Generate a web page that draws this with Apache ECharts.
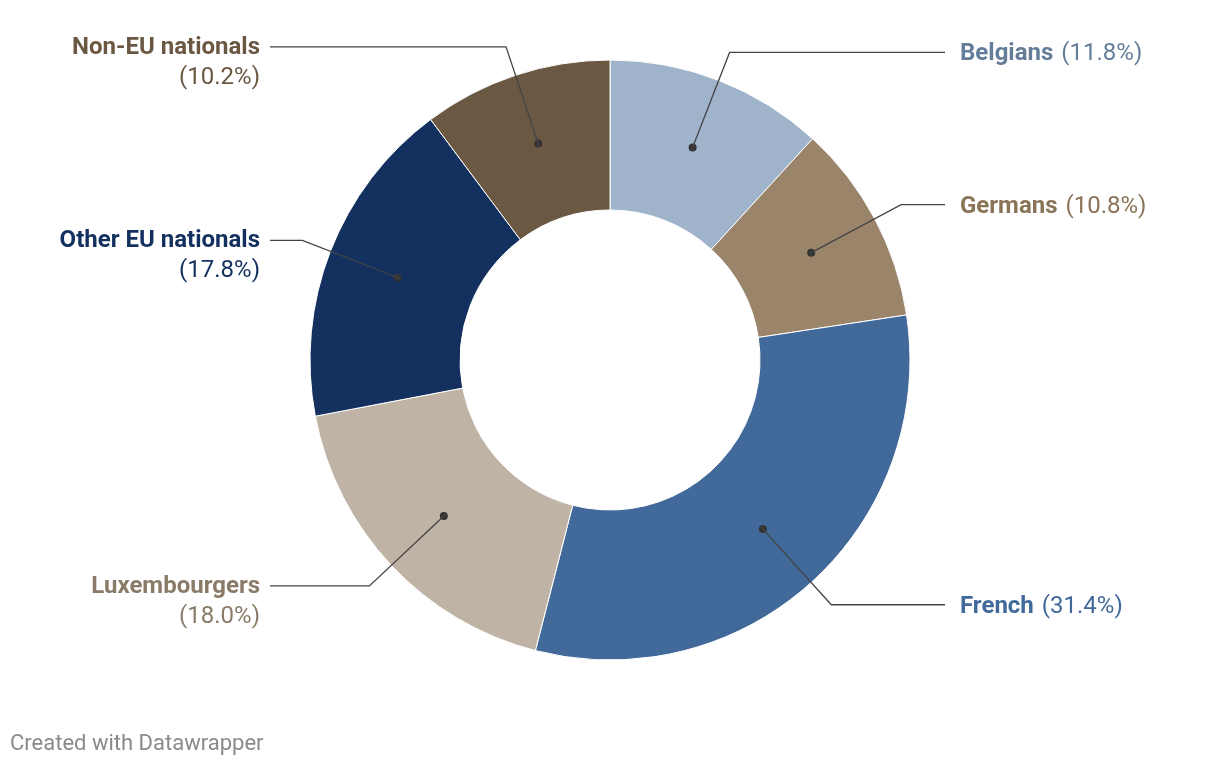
<!DOCTYPE html>
<html><head><meta charset="utf-8">
<script src="https://cdn.jsdelivr.net/npm/echarts@6/dist/echarts.min.js"></script>
<style>html,body{margin:0;padding:0;background:#fff}#c{width:1220px;height:766px}</style>
</head><body><div id="c"></div>
<script>
const categories = ['Belgians', 'Germans', 'French', 'Luxembourgers', 'Other EU nationals', 'Non-EU nationals'];
const values = [11.8, 10.8, 31.4, 18.0, 17.8, 10.2];
const sliceColors = ['#9fb3cb', '#9a856b', '#41699a', '#bfb3a5', '#13305f', '#6b5843'];
const labelColors = ['#647d99', '#8a7457', '#41699a', '#8a7a68', '#13305f', '#6b5843'];

const CX = 610, CY = 360, R0 = 150, R1 = 300, RMID = 225;
const total = values.reduce((a, b) => a + b, 0);
let cum = 0;
const sides = values.map(v => { const mid = cum + v / 2; cum += v; return mid < total / 2 ? 'right' : 'left'; });

const ringData = categories.map((name, i) => ({ name: name, value: values[i], itemStyle: { color: sliceColors[i] } }));

const labelData = categories.map((name, i) => {
  const pct = '(' + values[i].toFixed(1) + '%)';
  const right = sides[i] === 'right';
  return {
    name: name,
    value: values[i],
    label: {
      formatter: right ? '{b|' + name + '}{s|}{p|' + pct + '}' : '{b|' + name + '}\n{p|' + pct + '}',
      rich: {
        b: { fontFamily: 'Roboto', fontWeight: 'bold', fontSize: 24, color: labelColors[i], lineHeight: 30, align: right ? 'left' : 'right' },
        s: { width: 8, fontSize: 24, lineHeight: 30 },
        p: { fontFamily: 'Roboto', fontWeight: 'normal', fontSize: 24, color: labelColors[i], lineHeight: 30, align: right ? 'left' : 'right' }
      }
    }
  };
});

const chart = echarts.init(document.getElementById('c'), null, { renderer: 'canvas' });
chart.setOption({
  animation: false,
  backgroundColor: '#ffffff',
  graphic: [{
    type: 'text', left: 10, top: 733,
    style: { text: 'Created with Datawrapper', fontFamily: 'Roboto', fontSize: 22, fill: '#8a8a8a' }
  }],
  series: [
    {
      // the donut ring, with a dot at the middle of each slice
      type: 'pie',
      center: [CX, CY],
      radius: [R0, R1],
      startAngle: 90,
      clockwise: true,
      silent: true,
      emphasis: { disabled: true },
      itemStyle: { borderColor: '#ffffff', borderWidth: 1 },
      label: {
        show: true, position: 'inside', formatter: '{d| }',
        rich: { d: { width: 8, height: 8, borderRadius: 4, backgroundColor: '#333333', fontSize: 1, lineHeight: 8 } }
      },
      labelLine: { show: false },
      data: ringData
    },
    {
      // invisible ring ending at the dot radius: carries the leader lines and labels
      type: 'pie',
      center: [CX, CY],
      radius: [R0, RMID],
      startAngle: 90,
      clockwise: true,
      silent: true,
      z: 5,
      avoidLabelOverlap: false,
      emphasis: { disabled: true },
      itemStyle: { color: 'rgba(0,0,0,0)', borderWidth: 0 },
      label: { show: true, position: 'outside' },
      labelLine: { show: true, length: R1 + 30 - RMID, length2: 20, smooth: false, lineStyle: { color: '#444444', width: 1.3 } },
      labelLayout: function (p) {
        const pts = p.labelLinePoints;
        if (!pts) return {};
        const a = pts[0], b = pts[1];
        const right = b[0] > CX;
        if (right) {
          return { x: 960, y: b[1] + 2, align: 'left', verticalAlign: 'middle', labelLinePoints: [a, b, [945, b[1]]] };
        }
        return { x: 260, y: b[1] - 14, align: 'right', verticalAlign: 'top', labelLinePoints: [a, b, [270, b[1]]] };
      },
      data: labelData
    }
  ]
});
</script>
</body></html>
